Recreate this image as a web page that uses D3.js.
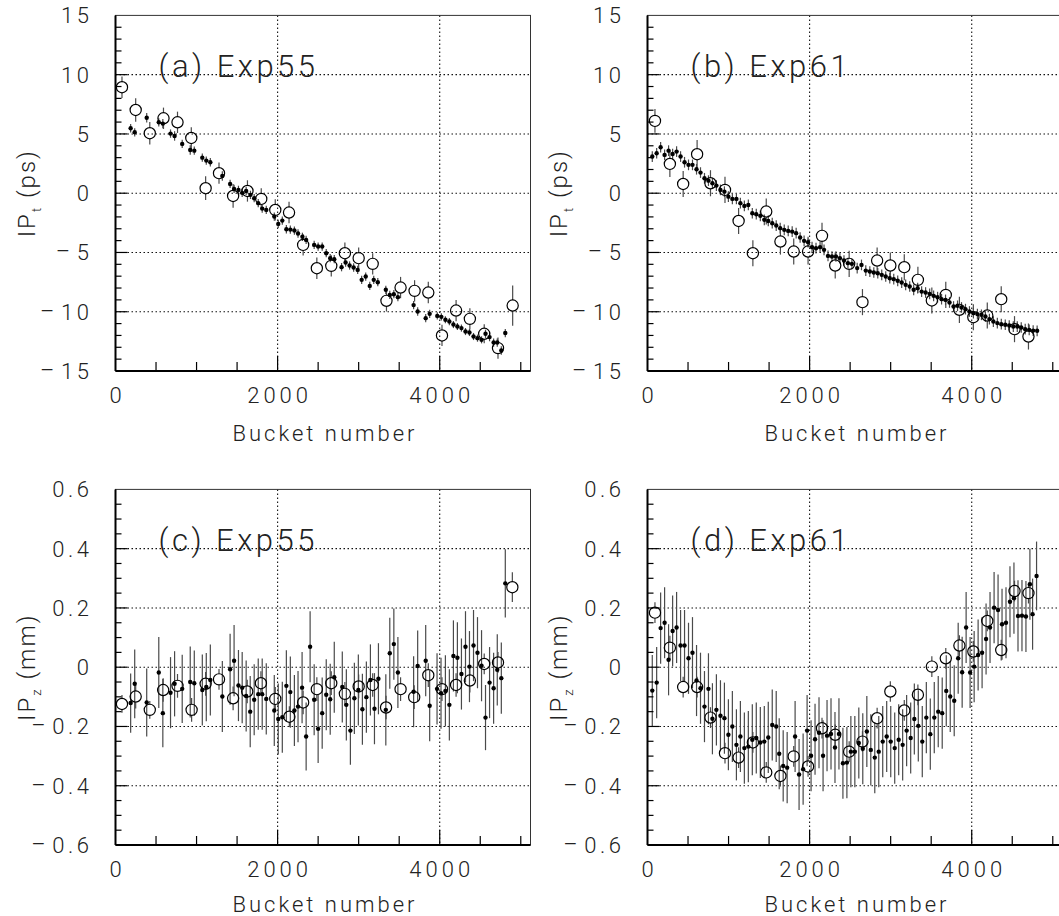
<!DOCTYPE html>
<html>
<head>
<meta charset="utf-8">
<script src="https://cdn.jsdelivr.net/npm/d3@7"></script>
<style>
  body { margin: 0; background: #fff; }
  svg text { font-family: "Roboto", "DejaVu Sans", sans-serif; font-weight: 300; fill: #222; }
</style>
</head>
<body>
<div id="chart"></div>
<script>
// IP position vs bucket number, Exp55 / Exp61
// each point is [bucket, value, error]

let bucketTicks = [0, 2000, 4000]
let ipTTicks = [-15, -10, -5, 0, 5, 10, 15]
let ipZTicks = [-0.6, -0.4, -0.2, 0, 0.2, 0.4, 0.6]

// (a) Exp55, IP_t
let exp55TCircles = [
  [80, 8.94, 0.9], [249, 7.02, 1.0], [423, 5.06, 0.95], [592, 6.32, 0.9], [765, 5.98, 0.9],
  [935, 4.66, 0.9], [1112, 0.42, 1.0], [1277, 1.69, 0.9], [1451, -0.23, 1.0], [1628, 0.19, 0.9],
  [1798, -0.48, 0.9], [1971, -1.41, 0.9], [2141, -1.63, 0.9], [2315, -4.36, 0.9], [2484, -6.33, 0.9],
  [2662, -6.13, 0.9], [2830, -5.06, 0.9], [3000, -5.48, 0.9], [3173, -5.96, 0.9], [3343, -9.08, 0.9],
  [3517, -7.96, 0.9], [3690, -8.24, 0.9], [3859, -8.38, 0.9], [4028, -12.0, 0.9], [4202, -9.9, 0.9],
  [4372, -10.6, 0.9], [4549, -11.86, 0.8], [4719, -13.07, 0.9], [4900, -9.48, 1.7]
]
let exp55TDots = [
  [187, 5.48, 0.35], [237, 5.14, 0.35], [385, 6.37, 0.4], [534, 5.98, 0.35], [584, 5.87, 0.4],
  [679, 5.03, 0.35], [729, 4.83, 0.4], [823, 4.16, 0.35], [922, 3.65, 0.4], [972, 3.59, 0.35],
  [1071, 3.0, 0.35], [1120, 2.75, 0.35], [1170, 2.61, 0.35], [1318, 1.46, 0.4], [1414, 0.78, 0.35],
  [1463, 0.36, 0.35], [1517, 0.28, 0.35], [1563, 0.03, 0.35], [1612, 0.19, 0.35], [1665, -0.14, 0.35],
  [1711, -0.42, 0.35], [1761, -0.84, 0.35], [1810, -1.3, 0.35], [1860, -1.41, 0.35], [1959, -1.97, 0.35],
  [2008, -2.59, 0.35], [2058, -2.31, 0.35], [2108, -3.04, 0.35], [2157, -3.07, 0.35], [2207, -3.15, 0.35],
  [2252, -3.4, 0.35], [2306, -3.68, 0.35], [2352, -3.94, 0.35], [2451, -4.36, 0.35], [2500, -4.5, 0.35],
  [2550, -4.5, 0.35], [2600, -5.06, 0.35], [2649, -5.48, 0.35], [2699, -5.57, 0.35], [2789, -6.24, 0.35],
  [2839, -5.85, 0.35], [2888, -6.1, 0.35], [2938, -6.27, 0.35], [2988, -6.47, 0.35], [3037, -7.31, 0.35],
  [3087, -7.03, 0.35], [3137, -7.82, 0.35], [3186, -7.31, 0.35], [3236, -7.51, 0.35], [3335, -8.15, 0.35],
  [3384, -8.58, 0.35], [3434, -8.52, 0.35], [3484, -8.77, 0.35], [3678, -9.44, 0.35], [3728, -9.98, 0.35],
  [3827, -10.54, 0.35], [3876, -10.18, 0.35], [3970, -10.35, 0.3], [4020, -10.43, 0.3], [4070, -10.68, 0.3],
  [4119, -10.83, 0.3], [4169, -11.08, 0.3], [4218, -11.25, 0.3], [4268, -11.38, 0.3], [4318, -11.67, 0.3],
  [4367, -11.75, 0.3], [4417, -12.09, 0.3], [4466, -12.23, 0.3], [4516, -12.37, 0.3], [4565, -11.86, 0.35],
  [4615, -12.14, 0.35], [4665, -12.6, 0.35], [4710, -12.6, 0.35], [4760, -13.27, 0.35], [4809, -11.8, 0.35]
]

// (b) Exp61, IP_t
let exp61TCircles = [
  [92, 6.1, 1.0], [276, 2.47, 1.1], [440, 0.78, 1.1], [612, 3.29, 1.2], [777, 0.84, 1.1],
  [956, 0.28, 1.1], [1124, -2.34, 1.1], [1300, -5.06, 1.1], [1465, -1.55, 1.1], [1640, -4.08, 1.1],
  [1804, -4.92, 1.1], [1981, -4.92, 1.1], [2153, -3.6, 1.1], [2316, -6.1, 1.1], [2488, -5.96, 1.1],
  [2652, -9.19, 1.1], [2833, -5.68, 1.1], [2996, -6.1, 1.1], [3168, -6.24, 1.1], [3336, -7.31, 1.1],
  [3508, -9.05, 1.1], [3680, -8.58, 1.1], [3848, -9.84, 1.1], [4020, -10.46, 1.1], [4192, -10.32, 1.1],
  [4364, -8.94, 1.1], [4528, -11.47, 1.1], [4700, -12.09, 1.1]
]
let exp61TDots = [
  [59, 3.09, 0.45], [113, 3.37, 0.45], [162, 3.88, 0.45], [211, 3.23, 0.45], [260, 3.59, 0.45],
  [310, 3.31, 0.45], [359, 3.51, 0.45], [408, 3.09, 0.45], [457, 2.61, 0.45], [506, 2.39, 0.45],
  [555, 2.39, 0.45], [605, 2.02, 0.45], [654, 1.74, 0.45], [703, 1.26, 0.45], [752, 1.06, 0.45],
  [801, 0.84, 0.45], [850, 0.64, 0.45], [900, 0.28, 0.45], [949, 0.13, 0.45], [998, -0.29, 0.45],
  [1047, -0.48, 0.45], [1097, -0.48, 0.45], [1146, -0.84, 0.45], [1195, -1.07, 0.45], [1244, -0.99, 0.45],
  [1293, -1.69, 0.45], [1342, -1.77, 0.45], [1392, -1.91, 0.45], [1441, -2.25, 0.45], [1490, -2.34, 0.45],
  [1539, -2.53, 0.45], [1588, -2.73, 0.45], [1637, -2.95, 0.45], [1687, -3.09, 0.45], [1736, -3.18, 0.45],
  [1785, -3.24, 0.45], [1834, -3.37, 0.45], [1883, -3.74, 0.45], [1932, -4.02, 0.45], [1981, -4.13, 0.45],
  [2030, -4.55, 0.45], [2079, -4.64, 0.45], [2129, -4.55, 0.45], [2178, -4.78, 0.45], [2227, -5.29, 0.45],
  [2276, -5.34, 0.45], [2325, -5.34, 0.45], [2374, -5.48, 0.45], [2424, -5.68, 0.45], [2473, -5.9, 0.45],
  [2522, -5.96, 0.45], [2587, -6.32, 0.45], [2640, -6.05, 0.45], [2693, -6.53, 0.45], [2743, -6.61, 0.45],
  [2792, -6.69, 0.45], [2841, -6.75, 0.45], [2890, -6.89, 0.45], [2939, -7.03, 0.45], [2989, -7.17, 0.45],
  [3038, -7.25, 0.45], [3087, -7.39, 0.45], [3136, -7.54, 0.45], [3185, -7.73, 0.45], [3235, -7.87, 0.45],
  [3284, -8.15, 0.45], [3333, -8.01, 0.45], [3382, -8.3, 0.45], [3431, -8.38, 0.45], [3481, -8.49, 0.45],
  [3530, -8.66, 0.45], [3579, -8.77, 0.45], [3628, -8.94, 0.45], [3677, -9.0, 0.45], [3726, -9.22, 0.45],
  [3776, -9.56, 0.45], [3825, -9.5, 0.45], [3874, -9.64, 0.45], [3923, -9.78, 0.45], [3972, -9.98, 0.45],
  [4021, -10.12, 0.45], [4070, -10.2, 0.45], [4120, -10.26, 0.45], [4169, -10.4, 0.45], [4218, -10.62, 0.45],
  [4267, -10.83, 0.45], [4316, -10.96, 0.45], [4365, -11.05, 0.45], [4414, -11.1, 0.45], [4463, -11.16, 0.45],
  [4513, -11.25, 0.45], [4562, -11.25, 0.45], [4611, -11.33, 0.45], [4660, -11.47, 0.45], [4709, -11.53, 0.45],
  [4758, -11.59, 0.45], [4807, -11.61, 0.45]
]

// (c) Exp55, IP_z
let exp55ZCircles = [
  [80, -0.124, 0.03], [249, -0.099, 0.04], [423, -0.144, 0.03], [588, -0.077, 0.04], [765, -0.063, 0.04],
  [939, -0.144, 0.04], [1112, -0.056, 0.04], [1277, -0.041, 0.035], [1451, -0.105, 0.04], [1625, -0.082, 0.04],
  [1794, -0.054, 0.04], [1971, -0.107, 0.04], [2145, -0.167, 0.035], [2315, -0.119, 0.04], [2484, -0.074, 0.04],
  [2662, -0.054, 0.04], [2830, -0.09, 0.04], [3000, -0.065, 0.04], [3173, -0.06, 0.04], [3338, -0.136, 0.04],
  [3517, -0.074, 0.04], [3685, -0.101, 0.04], [3859, -0.027, 0.04], [4028, -0.074, 0.04], [4202, -0.06, 0.04],
  [4372, -0.045, 0.04], [4549, 0.011, 0.035], [4719, 0.016, 0.035], [4896, 0.27, 0.05]
]
let exp55ZDots = [
  [187, -0.121, 0.1], [237, -0.056, 0.116], [385, -0.119, 0.115], [534, -0.018, 0.12], [584, -0.155, 0.115],
  [679, -0.086, 0.12], [729, -0.056, 0.11], [823, -0.073, 0.115], [922, -0.05, 0.12], [972, -0.054, 0.11],
  [1071, -0.077, 0.12], [1120, -0.067, 0.115], [1170, -0.043, 0.12], [1318, -0.099, 0.12], [1414, -0.007, 0.12],
  [1463, 0.022, 0.12], [1517, -0.062, 0.12], [1563, -0.069, 0.12], [1612, -0.097, 0.12], [1662, -0.15, 0.12],
  [1711, -0.11, 0.12], [1761, -0.091, 0.12], [1810, -0.091, 0.12], [1860, -0.107, 0.12], [1959, -0.146, 0.12],
  [2008, -0.175, 0.12], [2058, -0.169, 0.12], [2108, -0.063, 0.12], [2157, -0.084, 0.12], [2207, -0.146, 0.12],
  [2252, -0.133, 0.12], [2302, -0.069, 0.12], [2352, -0.234, 0.115], [2401, 0.069, 0.12], [2451, -0.11, 0.12],
  [2500, -0.208, 0.115], [2550, -0.155, 0.12], [2600, -0.093, 0.12], [2649, -0.108, 0.12], [2699, -0.034, 0.12],
  [2798, -0.067, 0.12], [2848, -0.127, 0.12], [2898, -0.214, 0.115], [2947, -0.105, 0.12], [2996, -0.077, 0.12],
  [3046, -0.142, 0.12], [3095, -0.101, 0.12], [3145, -0.043, 0.12], [3195, -0.14, 0.12], [3244, -0.039, 0.12],
  [3335, -0.144, 0.12], [3384, 0.047, 0.12], [3434, 0.078, 0.12], [3484, -0.018, 0.12], [3678, -0.083, 0.12],
  [3728, 0.004, 0.12], [3827, 0.022, 0.12], [3876, -0.13, 0.12], [3967, -0.073, 0.12], [4016, -0.088, 0.12],
  [4070, -0.08, 0.12], [4119, -0.127, 0.12], [4169, 0.038, 0.12], [4218, 0.032, 0.12], [4268, -0.023, 0.12],
  [4318, 0.069, 0.12], [4367, 0.002, 0.12], [4417, 0.073, 0.12], [4466, 0.049, 0.12], [4516, 0.005, 0.12],
  [4565, -0.17, 0.11], [4615, -0.052, 0.12], [4665, -0.071, 0.12], [4710, -0.009, 0.12], [4760, -0.037, 0.12],
  [4809, 0.283, 0.115]
]

// (d) Exp61, IP_z
let exp61ZCircles = [
  [92, 0.184, 0.035], [276, 0.066, 0.04], [440, -0.067, 0.035], [612, -0.067, 0.035], [777, -0.17, 0.035],
  [956, -0.29, 0.035], [1124, -0.305, 0.035], [1300, -0.254, 0.035], [1465, -0.355, 0.035], [1640, -0.367, 0.035],
  [1804, -0.301, 0.035], [1981, -0.335, 0.035], [2153, -0.206, 0.035], [2316, -0.228, 0.035], [2488, -0.285, 0.035],
  [2652, -0.251, 0.035], [2833, -0.172, 0.035], [2996, -0.082, 0.035], [3168, -0.146, 0.035], [3336, -0.093, 0.035],
  [3508, 0.002, 0.035], [3680, 0.03, 0.035], [3848, 0.073, 0.035], [4020, 0.053, 0.035], [4192, 0.156, 0.035],
  [4364, 0.058, 0.035], [4528, 0.257, 0.035], [4700, 0.25, 0.035]
]
let exp61ZDots = [
  [59, -0.079, 0.12], [113, -0.052, 0.12], [162, 0.132, 0.12], [211, 0.15, 0.12], [260, 0.025, 0.12],
  [310, 0.122, 0.12], [359, 0.134, 0.12], [408, 0.073, 0.12], [457, 0.073, 0.12], [506, 0.03, 0.12],
  [555, 0.049, 0.12], [605, -0.045, 0.12], [654, -0.071, 0.12], [703, -0.133, 0.12], [752, -0.073, 0.12],
  [801, -0.174, 0.12], [850, -0.144, 0.12], [900, -0.164, 0.12], [949, -0.172, 0.12], [998, -0.228, 0.12],
  [1047, -0.2, 0.12], [1097, -0.262, 0.12], [1146, -0.234, 0.12], [1195, -0.273, 0.12], [1244, -0.268, 0.12],
  [1293, -0.245, 0.12], [1342, -0.239, 0.12], [1392, -0.254, 0.12], [1441, -0.251, 0.12], [1490, -0.237, 0.12],
  [1539, -0.195, 0.12], [1588, -0.2, 0.12], [1625, -0.292, 0.12], [1674, -0.333, 0.12], [1723, -0.339, 0.12],
  [1821, -0.234, 0.12], [1870, -0.362, 0.12], [1920, -0.344, 0.12], [1969, -0.214, 0.12], [2018, -0.299, 0.12],
  [2067, -0.243, 0.12], [2116, -0.221, 0.12], [2166, -0.299, 0.12], [2215, -0.231, 0.12], [2264, -0.225, 0.12],
  [2313, -0.271, 0.12], [2362, -0.225, 0.12], [2411, -0.324, 0.12], [2460, -0.322, 0.12], [2509, -0.285, 0.12],
  [2558, -0.285, 0.12], [2607, -0.256, 0.12], [2656, -0.275, 0.12], [2706, -0.217, 0.12], [2755, -0.279, 0.12],
  [2804, -0.305, 0.12], [2853, -0.285, 0.12], [2902, -0.251, 0.12], [2951, -0.234, 0.12], [3001, -0.251, 0.12],
  [3050, -0.273, 0.12], [3099, -0.245, 0.12], [3148, -0.262, 0.12], [3197, -0.214, 0.12], [3247, -0.239, 0.12],
  [3292, -0.175, 0.12], [3341, -0.198, 0.12], [3390, -0.251, 0.12], [3440, -0.17, 0.12], [3489, -0.226, 0.12],
  [3538, -0.17, 0.12], [3587, -0.15, 0.12], [3636, -0.155, 0.12], [3686, -0.08, 0.12], [3735, -0.099, 0.12],
  [3784, -0.113, 0.12], [3833, 0.03, 0.12], [3882, -0.017, 0.12], [3931, 0.134, 0.12], [3980, -0.018, 0.12],
  [4030, 0.002, 0.12], [4079, 0.041, 0.12], [4128, 0.049, 0.12], [4177, 0.095, 0.12], [4226, 0.134, 0.12],
  [4276, 0.201, 0.12], [4325, 0.193, 0.12], [4374, 0.145, 0.12], [4423, 0.15, 0.12], [4472, 0.221, 0.12],
  [4521, 0.233, 0.12], [4571, 0.173, 0.12], [4620, 0.174, 0.12], [4669, 0.171, 0.12], [4718, 0.28, 0.12],
  [4751, 0.179, 0.12], [4800, 0.308, 0.116]
]

let svg = d3.select("#chart").append("svg")
    .attr("width", 1059)
    .attr("height", 916)

let plotW = 415
let plotH = 355.6

let panels = [
    { left: 115.5, top: 15.4, titleDy: 70, label: "(a) Exp55", sub: "t", unit: "(ps)", yDomain: [-15, 15], yTicks: ipTTicks, minorStep: 1, circles: exp55TCircles, dots: exp55TDots },
    { left: 647.5, top: 15.4, titleDy: 70, label: "(b) Exp61", sub: "t", unit: "(ps)", yDomain: [-15, 15], yTicks: ipTTicks, minorStep: 1, circles: exp61TCircles, dots: exp61TDots },
    { left: 115.5, top: 489.4, titleDy: 66.5, label: "(c) Exp55", sub: "z", unit: "(mm)", yDomain: [-0.6, 0.6], yTicks: ipZTicks, minorStep: 0.05, circles: exp55ZCircles, dots: exp55ZDots },
    { left: 647.5, top: 489.4, titleDy: 66.5, label: "(d) Exp61", sub: "z", unit: "(mm)", yDomain: [-0.6, 0.6], yTicks: ipZTicks, minorStep: 0.05, circles: exp61ZCircles, dots: exp61ZDots }
]

let fmtT = d => d3.format("d")(d)
let fmtZ = d => d === 0 ? "0" : d3.format(".1f")(d)

panels.forEach(p => {
    let x = d3.scaleLinear().domain([0, 5120]).range([p.left, p.left + plotW])
    let y = d3.scaleLinear().domain(p.yDomain).range([p.top + plotH, p.top])
    let bottom = p.top + plotH
    let right = p.left + plotW
    let g = svg.append("g")

    // dotted grid at the labelled ticks
    g.selectAll(".gx").data(bucketTicks.filter(d => d > 0)).enter().append("line")
        .attr("x1", d => x(d)).attr("x2", d => x(d))
        .attr("y1", p.top).attr("y2", bottom)
        .attr("stroke", "#111").attr("stroke-width", 1.1).attr("stroke-dasharray", "1.5,2.5")
    g.selectAll(".gy").data(p.yTicks.slice(1, -1)).enter().append("line")
        .attr("x1", p.left).attr("x2", right)
        .attr("y1", d => y(d)).attr("y2", d => y(d))
        .attr("stroke", "#111").attr("stroke-width", 1.1).attr("stroke-dasharray", "1.5,2.5")

    // error bars of the small dots
    g.selectAll(".ed").data(p.dots).enter().append("line")
        .attr("x1", d => x(d[0])).attr("x2", d => x(d[0]))
        .attr("y1", d => y(d[1] - d[2])).attr("y2", d => y(d[1] + d[2]))
        .attr("stroke", "#4a4a4a").attr("stroke-width", 1.2)

    // error bars of the open circles, outside the marker
    let r = 5.6
    p.circles.forEach(d => {
        let cy = y(d[1]), up = y(d[1] + d[2]), dn = y(d[1] - d[2])
        if (cy - up > r) {
            g.append("line").attr("x1", x(d[0])).attr("x2", x(d[0]))
                .attr("y1", up).attr("y2", cy - r)
                .attr("stroke", "#4a4a4a").attr("stroke-width", 1.2)
            g.append("line").attr("x1", x(d[0])).attr("x2", x(d[0]))
                .attr("y1", cy + r).attr("y2", dn)
                .attr("stroke", "#4a4a4a").attr("stroke-width", 1.2)
        }
    })

    g.selectAll(".dot").data(p.dots).enter().append("circle")
        .attr("cx", d => x(d[0])).attr("cy", d => y(d[1]))
        .attr("r", 2.2).attr("fill", "#000")

    g.selectAll(".ring").data(p.circles).enter().append("circle")
        .attr("cx", d => x(d[0])).attr("cy", d => y(d[1]))
        .attr("r", r).attr("fill", "none").attr("stroke", "#000").attr("stroke-width", 1.2)

    // frame: heavier left and bottom
    g.append("rect").attr("x", p.left).attr("y", p.top).attr("width", plotW).attr("height", plotH)
        .attr("fill", "none").attr("stroke", "#333").attr("stroke-width", 1)
    g.append("line").attr("x1", p.left).attr("x2", p.left).attr("y1", p.top).attr("y2", bottom)
        .attr("stroke", "#000").attr("stroke-width", 2)
    g.append("line").attr("x1", p.left).attr("x2", right).attr("y1", bottom).attr("y2", bottom)
        .attr("stroke", "#000").attr("stroke-width", 2)

    // ticks pointing into the plot
    let xMinor = d3.range(500, 5120, 500)
    g.selectAll(".xt").data(xMinor).enter().append("line")
        .attr("x1", d => x(d)).attr("x2", d => x(d))
        .attr("y1", bottom).attr("y2", d => bottom - (d % 2000 === 0 ? 15 : 9))
        .attr("stroke", "#000").attr("stroke-width", 1.2)
    let n = Math.round((p.yDomain[1] - p.yDomain[0]) / p.minorStep)
    let yMinor = d3.range(1, n).map(i => p.yDomain[0] + i * p.minorStep)
    let majorEvery = Math.round((p.yTicks[1] - p.yTicks[0]) / p.minorStep)
    g.selectAll(".yt").data(yMinor).enter().append("line")
        .attr("x1", p.left).attr("x2", (d, i) => p.left + ((i + 1) % majorEvery === 0 ? 12 : 6))
        .attr("y1", d => y(d)).attr("y2", d => y(d))
        .attr("stroke", "#000").attr("stroke-width", 1.2)

    // tick labels; the minus sign sits a little apart from the digits
    let fmt = p.sub === "t" ? fmtT : fmtZ
    g.selectAll(".yl").data(p.yTicks).enter().append("text")
        .attr("x", p.left - 23).attr("y", d => y(d) + 8)
        .attr("text-anchor", "end")
        .style("font-size", "22px").style("letter-spacing", "3.5px")
        .each(function(d) {
            let s = fmt(d)
            let t = d3.select(this)
            if (s[0] === "\u2212") {
                t.append("tspan").style("font-size", "26px").text("\u2212")
                t.append("tspan").attr("dx", 3).text(s.slice(1))
            } else {
                t.text(s)
            }
        })
    g.selectAll(".xl").data(bucketTicks).enter().append("text")
        .attr("x", d => x(d) + 2).attr("y", bottom + 32)
        .attr("text-anchor", "middle")
        .style("font-size", "22px").style("letter-spacing", "4px")
        .text(d => d)

    // axis titles
    g.append("text")
        .attr("x", (p.left + right) / 2 + 2).attr("y", bottom + p.titleDy)
        .attr("text-anchor", "middle")
        .style("font-size", "22px").style("letter-spacing", "3px")
        .text("Bucket number")
    let yt = g.append("text")
        .attr("transform", "translate(" + (p.left - 81) + "," + (p.top + plotH / 2) + ") rotate(-90)")
        .attr("text-anchor", "middle")
        .style("font-size", "24px").style("letter-spacing", "2px")
    yt.append("tspan").text("IP")
    yt.append("tspan").attr("dy", 6).style("font-size", "13px").text(p.sub)
    yt.append("tspan").attr("dy", -6).text(" " + p.unit)

    // panel label
    g.append("text")
        .attr("x", p.left + 43).attr("y", p.top + 62)
        .style("font-size", "31px").style("letter-spacing", "3.5px")
        .text(p.label)
})
</script>
</body>
</html>
